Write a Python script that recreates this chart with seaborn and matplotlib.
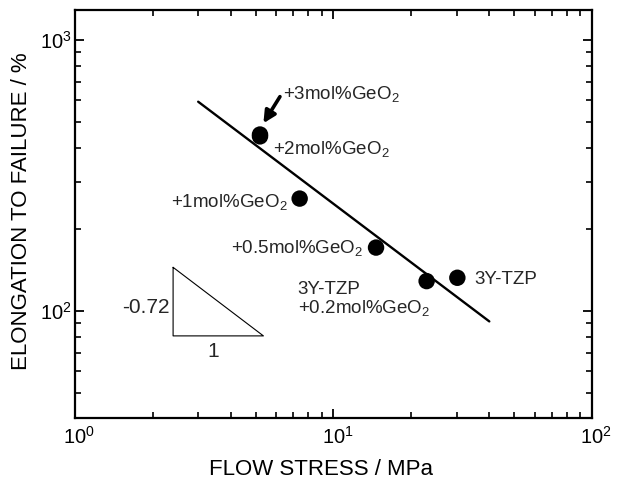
import matplotlib
matplotlib.use("Agg")
import matplotlib.pyplot as plt
import matplotlib.ticker as mticker
from matplotlib.transforms import ScaledTranslation
import pandas as pd
import seaborn as sns

# Superplastic elongation vs. flow stress of GeO2-doped 3Y-TZP
samples = ["3Y-TZP", "+0.2mol%GeO2", "+0.5mol%GeO2", "+1mol%GeO2", "+2mol%GeO2", "+3mol%GeO2"]
flow_stress = [30.1, 22.9, 14.6, 7.4, 5.2, 5.2]          # MPa
elongation = [132.7, 129.0, 171.5, 260.0, 441.0, 448.0]  # %

# Power-law fit, slope -0.72 on log-log axes
fit_stress = [3.0, 40.0]
fit_elong = [592.0, 91.6]

# Slope triangle (rise -0.72 over one decade ratio)
slope_x = [2.40, 2.40, 5.36, 2.40]
slope_y = [145.0, 81.0, 81.0, 145.0]

x_limits = (1.0, 100.0)
y_limits = (40.5, 1290.0)

sns.set_theme(style="ticks")
plt.rcParams["font.family"] = ["Liberation Sans", "DejaVu Sans"]
plt.rcParams["mathtext.fontset"] = "custom"
plt.rcParams["mathtext.rm"] = "Liberation Sans"
plt.rcParams["mathtext.it"] = "Liberation Sans"
plt.rcParams["mathtext.default"] = "regular"

df = pd.DataFrame({"sample": samples, "stress": flow_stress, "elong": elongation})

fig = plt.figure(figsize=(6.18, 4.79), dpi=100)
ax = fig.add_axes([0.12087, 0.12839, 0.83754, 0.85073])
ax.set_xscale("log")
ax.set_yscale("log")

sns.lineplot(x=fit_stress, y=fit_elong, ax=ax, color="black", lw=1.7)
sns.scatterplot(data=df, x="stress", y="elong", ax=ax, s=140, color="black",
                edgecolor="none", legend=False, zorder=3)
ax.plot(slope_x, slope_y, color="black", lw=0.8)

ax.set_xlim(*x_limits)
ax.set_ylim(*y_limits)

# sample labels
fs = 13.5
ax.text(6.38, 604, "+3mol%GeO$_2$", fontsize=fs, ha="left", va="baseline")
ax.text(5.82, 379.6, "+2mol%GeO$_2$", fontsize=fs, ha="left", va="baseline")
ax.text(6.67, 242.6, "+1mol%GeO$_2$", fontsize=fs, ha="right", va="baseline")
ax.text(13.0, 163.3, "+0.5mol%GeO$_2$", fontsize=fs, ha="right", va="baseline")
ax.text(34.9, 125.5, "3Y-TZP", fontsize=fs, ha="left", va="baseline")
ax.text(7.27, 115.5, "3Y-TZP", fontsize=fs, ha="left", va="baseline")
ax.text(7.27, 98.6, "+0.2mol%GeO$_2$", fontsize=fs, ha="left", va="baseline")

ax.annotate("", xy=(5.36, 493), xytext=(6.21, 618),
            arrowprops=dict(arrowstyle="-|>", color="black", lw=2.6,
                            mutation_scale=18, shrinkA=0, shrinkB=0))

ax.text(2.32, 98.6, "-0.72", fontsize=15, ha="right", va="baseline")
ax.text(3.44, 67.5, "1", fontsize=15, ha="center", va="baseline")

# axes styling
for sp in ax.spines.values():
    sp.set_linewidth(1.6)
    sp.set_color("black")
ax.tick_params(which="both", direction="in", top=True, right=True, colors="black")
ax.tick_params(which="major", length=6.5, width=1.3, labelsize=14.5)
ax.tick_params(which="minor", length=4.3, width=1.2)
ax.tick_params(axis="x", which="major", pad=6)
ax.tick_params(axis="y", which="major", pad=2)
ax.xaxis.set_minor_formatter(mticker.NullFormatter())
ax.yaxis.set_minor_formatter(mticker.NullFormatter())

shift = ScaledTranslation(4 / 100, 0, fig.dpi_scale_trans)
for lab in ax.get_xticklabels():
    lab.set_transform(lab.get_transform() + shift)

ax.set_xlabel("FLOW STRESS / MPa", fontsize=16, color="black")
ax.set_ylabel("ELONGATION TO FAILURE / %", fontsize=16, color="black")
ax.xaxis.set_label_coords(0.4765, -0.140)
ax.xaxis.label.set_verticalalignment("baseline")
ax.yaxis.set_label_coords(-0.0927, 0.5055)
ax.yaxis.label.set_verticalalignment("baseline")

fig.savefig("out.png", dpi=100, facecolor="white")
